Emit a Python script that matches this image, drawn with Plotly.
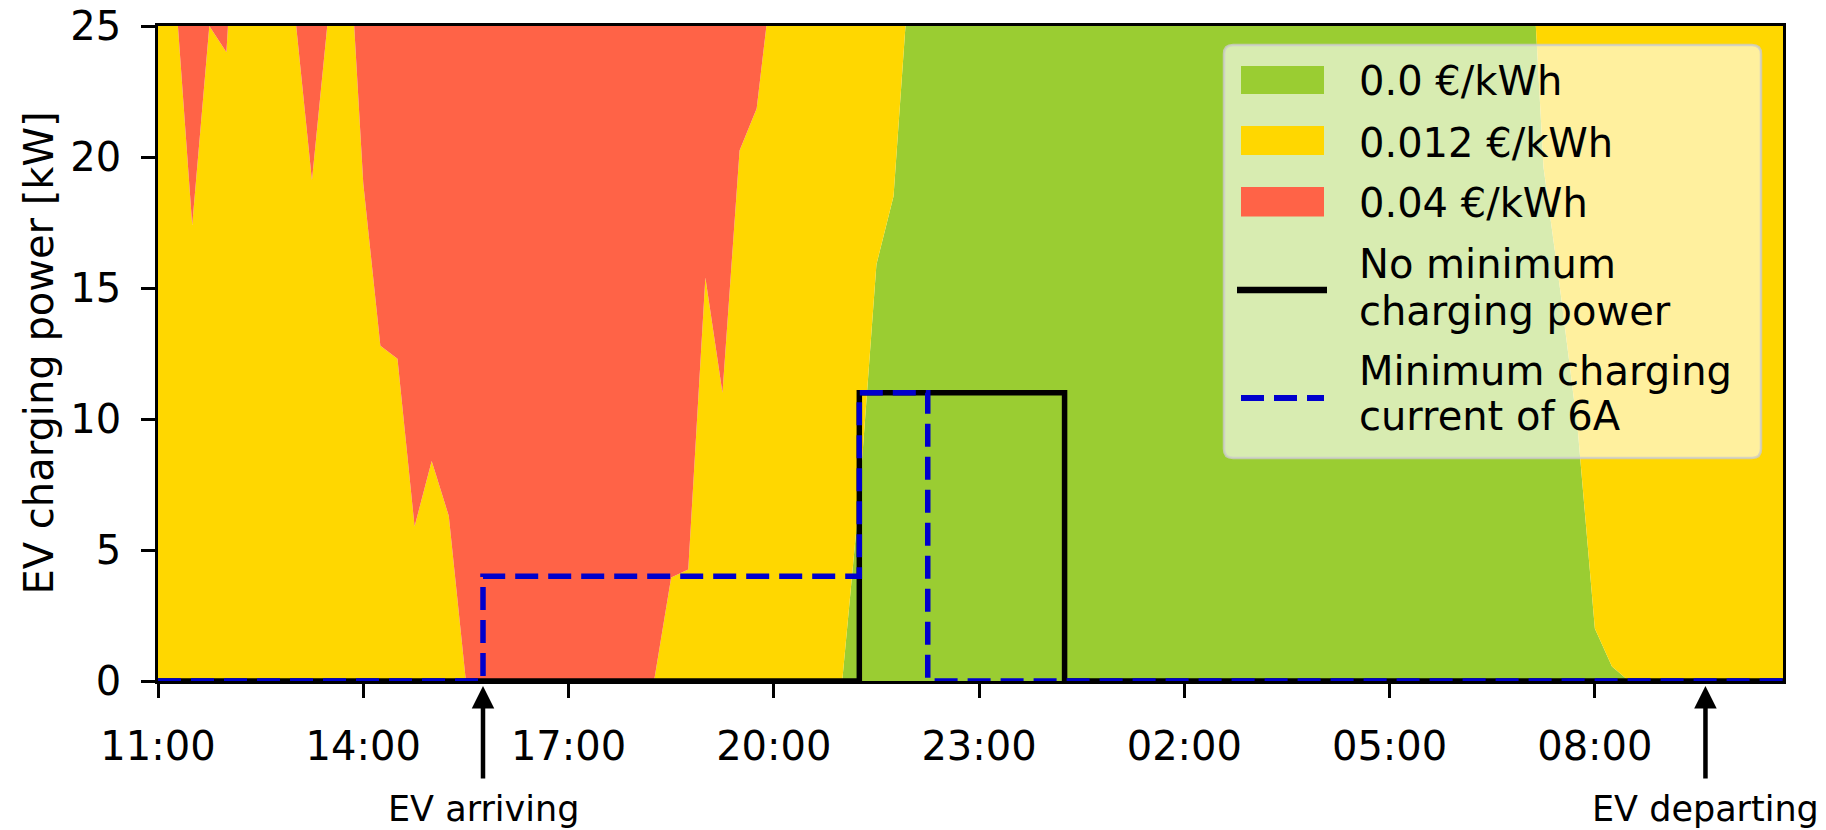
import plotly.graph_objects as go
from datetime import datetime, timedelta

# ---------------- data (15-minute resolution, 11:00 -> 10:45 next day) ----------------
start = datetime(2023, 6, 1, 11, 0)
times = [start + timedelta(minutes=15 * i) for i in range(96)]

# width of each price band (stacked: green bottom, then yellow, then red)
green_kw = [
    0, 0, 0, 0, 0, 0, 0, 0, 0, 0, 0, 0,
    0, 0, 0, 0, 0, 0, 0, 0, 0, 0, 0, 0,
    0, 0, 0, 0, 0, 0, 0, 0, 0, 0, 0, 0,
    0, 0, 0, 0, 0, 7.0, 15.9, 18.5, 27.8, 30, 30, 30,
    30, 30, 30, 30, 30, 30, 30, 30, 30, 30, 30, 30,
    30, 30, 30, 30, 30, 30, 30, 30, 30, 30, 30, 30,
    30, 30, 30, 30, 30, 30, 30, 30, 31.6, 19.6, 14.8, 9.6,
    2.0, 0.55, 0, 0, 0, 0, 0, 0, 0, 0, 0, 0,
]
yellow_kw = [
    28, 26.5, 17.4, 25.0, 24.0, 35, 32, 29, 25.5, 19.1, 25.7, 30.3,
    19.0, 12.8, 12.3, 5.9, 8.4, 6.3, 0, 0, 0, 0, 0, 0,
    0, 0, 0, 0, 0, 0, 3.95, 4.26, 15.4, 11.0, 20.25, 21.85,
    27.4, 30, 30, 30, 30, 23.0, 14.1, 11.5, 0, 0, 0, 0,
    0, 0, 0, 0, 0, 0, 0, 0, 0, 0, 0, 0,
    0, 0, 0, 0, 0, 0, 0, 0, 0, 0, 0, 0,
    0, 0, 0, 0, 0, 0, 0, 0, 0, 10.4, 15.2, 20.4,
    28.0, 29.45, 30, 30, 30, 30, 30, 30, 30, 30, 30, 30,
]
red_kw = [
    0, 0, 7.6, 0, 1.0, 0, 0, 0, 0, 5.9, 0, 0,
    6.0, 12.2, 12.7, 19.1, 16.6, 18.7, 25, 25, 25, 25, 25, 25,
    25, 25, 25, 25, 25, 25, 21.05, 20.74, 9.6, 14.0, 4.75, 3.15,
    0, 0, 0, 0, 0, 0, 0, 0, 0, 0, 0, 0,
    0, 0, 0, 0, 0, 0, 0, 0, 0, 0, 0, 0,
    0, 0, 0, 0, 0, 0, 0, 0, 0, 0, 0, 0,
    0, 0, 0, 0, 0, 0, 0, 0, 0, 0, 0, 0,
    0, 0, 0, 0, 0, 0, 0, 0, 0, 0, 0, 0,
]
band_names = ["0.0 €/kWh", "0.012 €/kWh", "0.04 €/kWh"]
band_colors = ["yellowgreen", "gold", "tomato"]

# charging schedules (step changes)
no_min_times = ["2023-06-01 11:00", "2023-06-01 21:15", "2023-06-02 00:15", "2023-06-02 10:45"]
no_min_kw = [0, 11, 0, 0]
min6a_times = ["2023-06-01 11:00", "2023-06-01 15:45", "2023-06-01 21:15",
               "2023-06-01 22:15", "2023-06-02 10:45"]
min6a_kw = [0, 4, 11, 0, 0]
line_names = ["No minimum<br>charging power", "Minimum charging<br>current of 6A"]

arrive_time = "2023-06-01 15:45"
depart_time = "2023-06-02 09:37"

x_ticks = ["2023-06-01 11:00", "2023-06-01 14:00", "2023-06-01 17:00", "2023-06-01 20:00",
           "2023-06-01 23:00", "2023-06-02 02:00", "2023-06-02 05:00", "2023-06-02 08:00"]
x_ticktext = ["11:00", "14:00", "17:00", "20:00", "23:00", "02:00", "05:00", "08:00"]
y_ticks = [0, 5, 10, 15, 20, 25]

# ---------------- layout geometry ----------------
W, H = 1826, 830
ML, MR, MT, MB = 158, 43, 26, 149
PW, PH = W - ML - MR, H - MT - MB
FONT = "DejaVu Sans"


def px_x(px):
    return (px - ML) / PW


def px_y(py):
    return (H - MB - py) / PH


fig = go.Figure()

for vals, name, col in zip([green_kw, yellow_kw, red_kw], band_names, band_colors):
    fig.add_trace(go.Scatter(
        x=times, y=vals, name=name, stackgroup="price", mode="lines",
        line=dict(width=0, color=col), fillcolor=col, showlegend=False,
        hoverinfo="skip"))

fig.add_trace(go.Scatter(
    x=no_min_times, y=no_min_kw, name=line_names[0], mode="lines",
    line=dict(color="black", width=5.5, shape="hv"), showlegend=False))
fig.add_trace(go.Scatter(
    x=min6a_times, y=min6a_kw, name=line_names[1], mode="lines",
    line=dict(color="mediumblue", width=5.5, shape="hv", dash="23px,10px"),
    showlegend=False))

axis_common = dict(
    showline=True, linecolor="black", linewidth=2.5, mirror=True,
    ticks="outside", ticklen=14, tickwidth=2.5, tickcolor="black",
    showgrid=False, zeroline=False, automargin=False,
    tickfont=dict(family=FONT, size=40, color="black"),
)

fig.update_xaxes(
    type="date", range=[times[0], times[-1]],
    tickvals=x_ticks, ticktext=x_ticktext, ticklabelstandoff=14, **axis_common)
fig.update_yaxes(range=[0, 25], tickvals=y_ticks, ticklabelstandoff=12, **axis_common)

shapes = []
annotations = []

# y-axis title
annotations.append(dict(
    text="EV charging power [kW]", textangle=-90, xref="paper", yref="paper",
    x=px_x(38), y=0.5, xanchor="center", yanchor="middle", showarrow=False,
    font=dict(family=FONT, size=40, color="black")))

# arrival / departure arrows
for t, label in [(arrive_time, "EV arriving"), (depart_time, "EV departing")]:
    annotations.append(dict(
        text=label, x=t, y=px_y(686), xref="x", yref="paper",
        showarrow=True, ax=0, ay=123, arrowhead=2, arrowsize=1.0, arrowwidth=4.5,
        arrowcolor="black", standoff=0, startstandoff=9,
        font=dict(family=FONT, size=35, color="black")))

# ---------------- manual legend ----------------
lx0, lx1, ly0, ly1, r = 1224, 1761, 45, 458, 9


def P(x, y):
    return f"{px_x(x):.6f},{px_y(y):.6f}"


path = (f"M{P(lx0 + r, ly0)} L{P(lx1 - r, ly0)} Q{P(lx1, ly0)} {P(lx1, ly0 + r)} "
        f"L{P(lx1, ly1 - r)} Q{P(lx1, ly1)} {P(lx1 - r, ly1)} "
        f"L{P(lx0 + r, ly1)} Q{P(lx0, ly1)} {P(lx0, ly1 - r)} "
        f"L{P(lx0, ly0 + r)} Q{P(lx0, ly0)} {P(lx0 + r, ly0)} Z")
shapes.append(dict(type="path", path=path, xref="paper", yref="paper",
                   fillcolor="rgba(255,255,255,0.62)",
                   line=dict(color="rgba(204,204,204,0.8)", width=2.5), layer="above"))

sw_x0, sw_x1 = 1241, 1324
for (y0, y1), col in zip([(66, 94), (126, 155), (187, 216.5)], band_colors):
    shapes.append(dict(type="rect", xref="paper", yref="paper",
                       x0=px_x(sw_x0), x1=px_x(sw_x1), y0=px_y(y1), y1=px_y(y0),
                       fillcolor=col, line=dict(width=0), layer="above"))
shapes.append(dict(type="line", xref="paper", yref="paper",
                   x0=px_x(1237), x1=px_x(1327), y0=px_y(290), y1=px_y(290),
                   line=dict(color="black", width=6.5), layer="above"))
shapes.append(dict(type="line", xref="paper", yref="paper",
                   x0=px_x(1241), x1=px_x(1324), y0=px_y(398), y1=px_y(398),
                   line=dict(color="mediumblue", width=6, dash="23px,10px"), layer="above"))

legend_lines = [
    (band_names[0], 95), (band_names[1], 156.7), (band_names[2], 216.7),
    ("No minimum", 277.3), ("charging power", 325),
    ("Minimum charging", 385), ("current of 6A", 430),
]
for txt, base in legend_lines:
    annotations.append(dict(
        text=txt, xref="paper", yref="paper", x=px_x(1357), y=px_y(base - 13.8),
        xanchor="left", yanchor="middle", showarrow=False,
        font=dict(family=FONT, size=40, color="black")))

fig.update_layout(
    width=W, height=H,
    margin=dict(l=ML, r=MR, t=MT, b=MB, pad=0),
    paper_bgcolor="white", plot_bgcolor="white",
    font=dict(family=FONT, size=40, color="black"),
    shapes=shapes, annotations=annotations, showlegend=False,
)

fig.write_html("out.html")
